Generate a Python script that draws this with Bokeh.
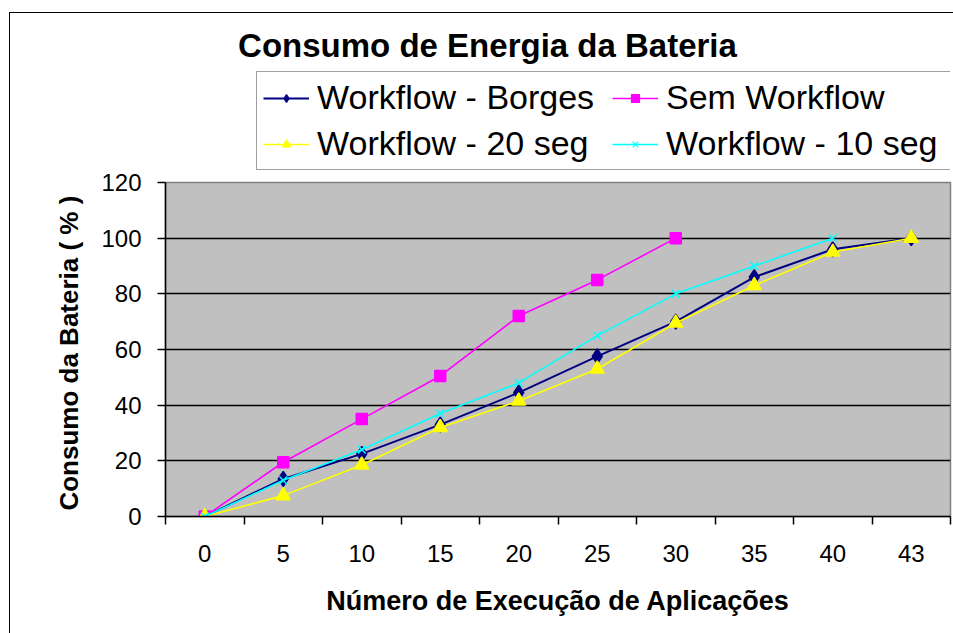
from bokeh.plotting import figure
from bokeh.layouts import column
from bokeh.models import Range1d, FixedTicker, Legend, LegendItem, Label
from bokeh.embed import file_html
from bokeh.resources import INLINE

categories = ["0", "5", "10", "15", "20", "25", "30", "35", "40", "43"]
borges = [0, 13.5, 22.5, 33, 44.5, 57.5, 70, 86, 96, 100]
sem_workflow = [0, 19.5, 35, 50.5, 72, 85, 100]
seg20 = [0, 7.5, 18.5, 32, 41.5, 53, 69.5, 83, 95, 100]
seg10 = [0, 13, 24, 37, 48, 65, 80, 90, 100]
y_ticks = [0, 20, 40, 60, 80, 100, 120]

title_text = "Consumo de Energia da Bateria"
x_title = "Número de Execução de Aplicações"
y_title = "Consumo  da Bateria ( % )"

series = [
    ("Workflow - Borges", borges, "#000080", "diamond", 15, 2.0),
    ("Sem Workflow", sem_workflow, "#ff00ff", "square", 11, 1.6),
    ("Workflow - 20 seg", seg20, "#ffff00", "triangle", 14, 1.6),
    ("Workflow - 10 seg", seg10, "#00ffff", "x", 11, 1.6),
]

W = 943
TOP_H = 157
MAIN_H = 463

n = len(categories)
xpos = [i + 0.5 for i in range(n)]
bounds = list(range(n + 1))

# ---------------- header figure: title + legend ----------------
# its frame is aligned with the main chart's frame (page x 165..950, page y 13..170)
top = figure(width=W, height=TOP_H, output_backend="svg", toolbar_location=None,
             x_range=Range1d(165, 950), y_range=Range1d(170, 13),
             x_axis_location=None, y_axis_location=None,
             min_border_left=155, min_border_right=3,
             min_border_top=0, min_border_bottom=0)
top.grid.visible = False
top.outline_line_color = None
top.background_fill_color = "white"
top.border_fill_color = "white"

items = []
for name, vals, color, marker, size, lw in series:
    xs = xpos[:len(vals)]
    # proxy renderers for the legend (their points fall outside this header's frame)
    lr = top.line(xs, vals, line_color=color, line_width=lw)
    sr = top.scatter(xs, vals, marker=marker, size=size * 0.75, fill_color=color,
                     line_color=color, line_width=1.2)
    items.append(LegendItem(label=name, renderers=[lr, sr]))

legend = Legend(items=items, orientation="horizontal", ncols=2,
                location=(91, 0),
                label_text_font="Liberation Sans", label_text_font_size="34px",
                label_text_color="black",
                glyph_width=46, glyph_height=20, label_height=36, label_width=288,
                label_standoff=8, spacing=7, padding=6, margin=0,
                border_line_color="#404040", border_line_width=1.5,
                background_fill_color="white", background_fill_alpha=1.0)
top.add_layout(legend, "center")

title = Label(x=487, y=45, text=title_text,
              text_align="center", text_baseline="middle",
              text_font="Liberation Sans", text_font_style="bold",
              text_font_size="33px", text_color="black")
top.add_layout(title)

# ---------------- main chart ----------------
p = figure(width=W, height=MAIN_H, output_backend="svg", toolbar_location=None,
           x_range=Range1d(0, n), y_range=Range1d(0, 120),
           min_border_left=155, min_border_right=3, min_border_top=12, min_border_bottom=117)
p.background_fill_color = "#c0c0c0"
p.border_fill_color = "white"
p.outline_line_color = "#808080"
p.outline_line_width = 1.5

xa = p.xaxis[0]
xa.ticker = FixedTicker(ticks=xpos, minor_ticks=bounds)
xa.major_label_overrides = {x: c for x, c in zip(xpos, categories)}
xa.major_tick_out = 0
xa.major_tick_in = 0
xa.minor_tick_out = 8
xa.minor_tick_in = 0
xa.minor_tick_line_color = "black"
xa.minor_tick_line_width = 1.5
xa.axis_line_color = "black"
xa.axis_line_width = 1.5
xa.major_label_standoff = 20
xa.major_label_text_font = "Liberation Sans"
xa.major_label_text_font_size = "24px"
xa.major_label_text_color = "black"
xa.axis_label = x_title
xa.axis_label_text_font = "Liberation Sans"
xa.axis_label_text_font_style = "bold"
xa.axis_label_text_font_size = "27px"
xa.axis_label_text_color = "black"
xa.axis_label_standoff = 21

ya = p.yaxis[0]
ya.ticker = FixedTicker(ticks=y_ticks)
ya.major_tick_out = 8
ya.major_tick_in = 0
ya.minor_tick_line_color = None
ya.major_tick_line_color = "black"
ya.major_tick_line_width = 1.5
ya.axis_line_color = "black"
ya.axis_line_width = 1.5
ya.major_label_standoff = 16
ya.major_label_text_font = "Liberation Sans"
ya.major_label_text_font_size = "24px"
ya.major_label_text_color = "black"
ya.axis_label = y_title
ya.axis_label_text_font = "Liberation Sans"
ya.axis_label_text_font_style = "bold"
ya.axis_label_text_font_size = "26px"
ya.axis_label_text_color = "black"
ya.axis_label_standoff = 14

p.xgrid.grid_line_color = None
p.ygrid.grid_line_color = "black"
p.ygrid.grid_line_width = 1.5
p.ygrid.ticker = FixedTicker(ticks=y_ticks)

for name, vals, color, marker, size, lw in series:
    xs = xpos[:len(vals)]
    p.line(xs, vals, line_color=color, line_width=lw)
    p.scatter(xs, vals, marker=marker, size=size, fill_color=color, line_color=color,
              line_width=1.5)

layout = column(top, p, spacing=0, margin=(12, 0, 0, 9),
                styles={"border-left": "1px solid black", "border-top": "1px solid black"})

open("out.html", "w").write(file_html(layout, INLINE))
